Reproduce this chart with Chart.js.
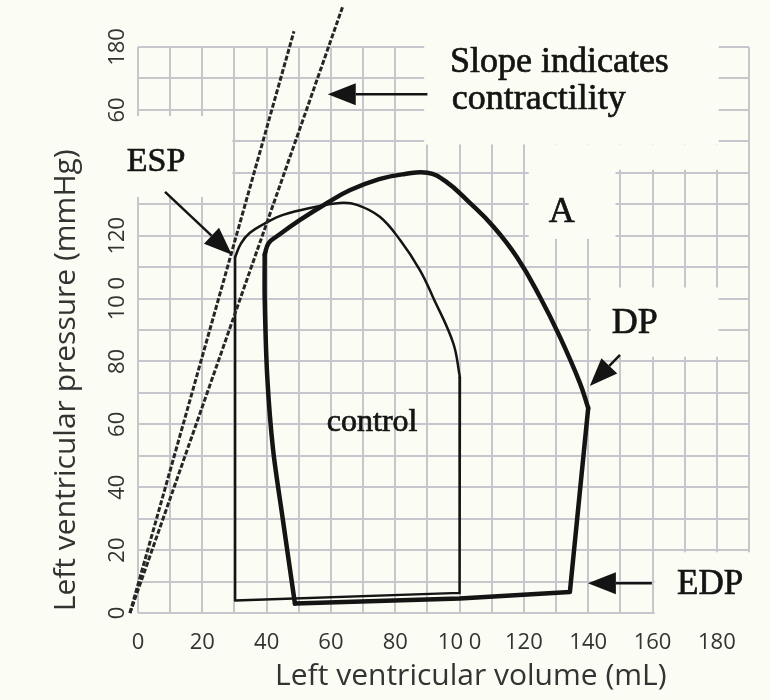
<!DOCTYPE html>
<html>
<head>
<meta charset="utf-8">
<script src="https://cdn.jsdelivr.net/npm/chart.js@4"></script>
<style>
  html, body { margin: 0; background: #fbfcf3; }
  #wrap { width: 770px; height: 700px; }
</style>
</head>
<body>
<div id="wrap"><canvas id="pv" width="770" height="700"></canvas></div>
<script>
// tick labels as they are printed on the figure
const xTickLabels = ["0", "20", "40", "60", "80", "10 0", "120", "140", "160", "180"];
const yTickLabels = ["0", "20", "40", "60", "80", "10 0", "120", "", "60", "180"];

// control loop: curved top (ejection) and the straight sides/bottom
const controlArcVol = [30.2, 32, 34.8, 40, 45.1, 53.5, 62.8, 68.1, 75.2, 81.5, 87.7, 91.7, 98, 100.1];
const controlArcPres = [113.2, 117.5, 120.9, 124.2, 126.6, 128.8, 130.4, 129.8, 126, 118.6, 109, 100.5, 85.9, 75];
const controlEdgeVol = [100.1, 100, 30.2, 30.2];
const controlEdgePres = [75, 6.4, 4, 113.2];

// bold loop: left side, curved top, right side + bottom
const boldLeftVol = [48.8, 45, 42, 40.2, 39.4, 39.4];
const boldLeftPres = [3, 30, 52, 75, 100, 114];
const boldArcVol = [39.4, 40.6, 43.2, 50.4, 58.8, 66, 75, 83, 90, 95.5, 103.2, 110.4, 117.8, 125, 131.2, 137.4, 140];
const boldArcPres = [114, 117.6, 119.8, 125, 130.4, 134.5, 138, 139.6, 140, 137.4, 130.4, 123, 113.2, 100.5, 87.8, 73.2, 65.2];
const boldEdgeVol = [140, 134.3, 100, 48.8];
const boldEdgePres = [65.2, 6.7, 4.6, 3];

// end-systolic pressure-volume lines
const steepLineVol = [-2.5, 48.5];
const steepLinePres = [0, 185];
const shallowLineVol = [-2.5, 63.7];
const shallowLinePres = [0, 193];

const paper = "#fbfcf3";
const ink = "#141414";

function pts(xs, ys) {
  return xs.map((x, i) => ({ x, y: ys[i] }));
}

// spots where the scanned grid is blank behind the labels [x0, x1, y0, y1]
const blankAreas = [
  [89, 180.6, 149, 186],
  [148, 180.6, 141, 149],
  [121.5, 148.5, 119, 149],
  [-5, 29.3, 132.3, 158],
  [140.8, 180.5, 81.5, 103.5],
  [160.7, 195, -3, 19.3],
];

const notes = [
  { text: "Slope indicates", x: 97, y: 175, size: 36, align: "left" },
  { text: "contractility", x: 97.6, y: 163.2, size: 36, align: "left" },
  { text: "ESP", x: 5.6, y: 143.4, size: 34, align: "center" },
  { text: "A", x: 131.8, y: 127.5, size: 36, align: "center" },
  { text: "DP", x: 154.5, y: 92.2, size: 36, align: "center" },
  { text: "EDP", x: 177.9, y: 8.9, size: 35, align: "center" },
  { text: "control", x: 72.8, y: 60.4, size: 32, align: "center" },
];

const arrows = [
  { from: [90, 165], to: [59, 165] },
  { from: [8.4, 133.9], to: [29.2, 113.9] },
  { from: [149.9, 82.1], to: [140.5, 72.2] },
  { from: [159.8, 9.5], to: [139.9, 9.5] },
];

const paperPlugin = {
  id: "paper",
  beforeDraw(chart) {
    const ctx = chart.ctx;
    ctx.save();
    ctx.fillStyle = paper;
    ctx.fillRect(0, 0, chart.width, chart.height);
    ctx.restore();
  },
  beforeDatasetsDraw(chart) {
    const { ctx, scales: { x, y } } = chart;
    ctx.save();
    ctx.fillStyle = paper;
    blankAreas.forEach(([x0, x1, y0, y1]) => {
      const l = x.getPixelForValue(x0), r = x.getPixelForValue(x1);
      const t = y.getPixelForValue(y1), b = y.getPixelForValue(y0);
      ctx.fillRect(l, t, r - l, b - t);
    });
    ctx.restore();
  },
  afterDatasetsDraw(chart) {
    const { ctx, chartArea, scales: { x, y } } = chart;
    ctx.save();
    ctx.fillStyle = ink;
    ctx.strokeStyle = ink;
    ctx.lineWidth = 0.7;
    ctx.textBaseline = "middle";
    notes.forEach((n) => {
      ctx.font = n.size + 'px "Liberation Serif"';
      ctx.textAlign = n.align;
      const px = x.getPixelForValue(n.x), py = y.getPixelForValue(n.y);
      ctx.fillText(n.text, px, py);
      ctx.strokeText(n.text, px, py);
    });

    ctx.lineWidth = 2.5;
    arrows.forEach((a) => {
      const x0 = x.getPixelForValue(a.from[0]), y0 = y.getPixelForValue(a.from[1]);
      const x1 = x.getPixelForValue(a.to[0]), y1 = y.getPixelForValue(a.to[1]);
      const ang = Math.atan2(y1 - y0, x1 - x0);
      const len = 28, half = 11;
      const bx = x1 - len * Math.cos(ang), by = y1 - len * Math.sin(ang);
      ctx.beginPath();
      ctx.moveTo(x0, y0);
      ctx.lineTo(bx, by);
      ctx.stroke();
      ctx.beginPath();
      ctx.moveTo(x1, y1);
      ctx.lineTo(bx + half * Math.sin(ang), by - half * Math.cos(ang));
      ctx.lineTo(bx - half * Math.sin(ang), by + half * Math.cos(ang));
      ctx.closePath();
      ctx.fill();
    });

    // rotated y tick labels and both axis titles
    ctx.fillStyle = "#333";
    ctx.textAlign = "center";
    ctx.font = '22px "Open Sans"';
    yTickLabels.forEach((lab, i) => {
      if (!lab) return;
      ctx.save();
      ctx.translate(chartArea.left - 20, y.getPixelForValue(i * 20));
      ctx.rotate(-Math.PI / 2);
      ctx.fillText(lab, 0, 0);
      ctx.restore();
    });
    ctx.font = '30px "Open Sans"';
    ctx.save();
    ctx.translate(66, y.getPixelForValue(74));
    ctx.rotate(-Math.PI / 2);
    ctx.fillText("Left ventricular pressure (mmHg)", 0, 0);
    ctx.restore();
    ctx.fillText("Left ventricular volume (mL)", x.getPixelForValue(103.5), 676);
    ctx.restore();
  },
};

const thin = { borderColor: ink, borderWidth: 2.5, pointRadius: 0, showLine: true, borderJoinStyle: "round", borderCapStyle: "round" };
const thick = { ...thin, borderWidth: 4.5 };
const dashed = { borderColor: "#262626", borderWidth: 3, pointRadius: 0, showLine: true, borderDash: [5, 2], clip: false };

new Chart(document.getElementById("pv"), {
  type: "scatter",
  data: {
    datasets: [
      { ...dashed, data: pts(steepLineVol, steepLinePres) },
      { ...dashed, data: pts(shallowLineVol, shallowLinePres) },
      { ...thin, tension: 0.4, data: pts(controlArcVol, controlArcPres) },
      { ...thin, tension: 0, data: pts(controlEdgeVol, controlEdgePres) },
      { ...thick, tension: 0.3, data: pts(boldLeftVol, boldLeftPres) },
      { ...thick, tension: 0.45, data: pts(boldArcVol, boldArcPres) },
      { ...thick, tension: 0, data: pts(boldEdgeVol, boldEdgePres) },
    ],
  },
  plugins: [paperPlugin],
  options: {
    responsive: false,
    animation: false,
    layout: { padding: { top: 47, right: 21, left: 0, bottom: 0 } },
    plugins: { legend: { display: false }, tooltip: { enabled: false } },
    scales: {
      x: {
        min: 0,
        max: 190,
        afterFit: (s) => { s.height = 87; },
        border: { display: false },
        grid: { color: "#c8c6cc", lineWidth: 2, drawTicks: false },
        ticks: {
          stepSize: 10,
          autoSkip: false,
          maxRotation: 0,
          padding: 17,
          color: "#333",
          font: { family: "Open Sans", size: 22 },
          callback: (v) => (v % 20 === 0 && xTickLabels[v / 20] !== undefined ? xTickLabels[v / 20] : ""),
        },
      },
      y: {
        min: 0,
        max: 180,
        afterFit: (s) => { s.width = 138; },
        border: { display: false },
        grid: { color: "#c8c6cc", lineWidth: 2, drawTicks: false },
        ticks: { stepSize: 10, display: false },
      },
    },
  },
});
</script>
</body>
</html>
